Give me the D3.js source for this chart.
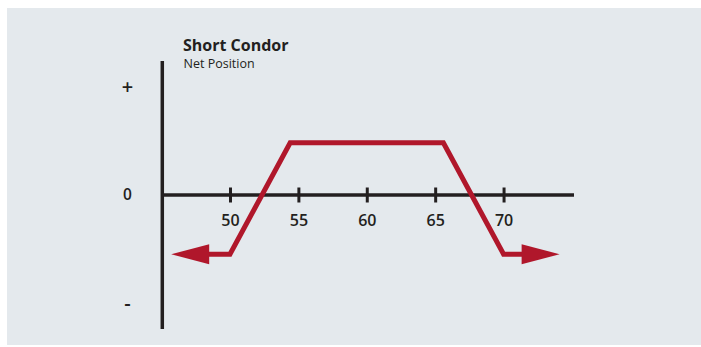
<!DOCTYPE html>
<html>
<head>
<meta charset="utf-8">
<script src="https://cdn.jsdelivr.net/npm/d3@7"></script>
<style>
  html, body { margin: 0; padding: 0; background: #ffffff; }
  svg { display: block; }
  text { font-family: "Open Sans", "Noto Sans", sans-serif; fill: #231f20; }
</style>
</head>
<body>
<svg id="chart" width="701" height="347"></svg>
<script>
// Strike prices shown on the horizontal axis
const strikes = [50, 55, 60, 65, 70];
// Net position of the short condor at its break points (arbitrary profit units)
const payoffPrice = [50, 54.4, 65.6, 70];
const payoffValue = [-3.4, 3, 3, -3.4];
// Where the open-ended arrows point to on each side
const arrowTipPrice = [45.7, 74.1];
// Vertical-axis markers
const yMarkLabels = ["+", "0", "-"];
const yMarkValues = [6.15, 0, -6.25];
const yMarkSizes = [20, 15.5, 20];

const svg = d3.select("#chart");
const W = 701, H = 347;

svg.append("rect")
  .attr("x", 7).attr("y", 8)
  .attr("width", W - 7).attr("height", H - 10)
  .attr("fill", "#e4e9ed");

const x = d3.scaleLinear().domain([45, 75.15]).range([161.6, 574]);
const y = d3.scaleLinear().domain([-7.7, 7.7]).range([329, 61]);

const ink = "#231f20";
const red = "#b0172b";

// Axes
const xAxis = d3.axisBottom(x)
  .tickValues(strikes)
  .tickSize(0)
  .tickPadding(0);

const gx = svg.append("g")
  .attr("transform", `translate(0,${y(0)})`)
  .call(xAxis);
gx.select(".domain").remove();
gx.selectAll(".tick text")
  .attr("dy", null)
  .attr("y", 31)
  .style("font-size", "16px")
  .style("font-weight", 600)
  .attr("fill", ink);
gx.selectAll(".tick").append("line")
  .attr("y1", -7.5).attr("y2", 7.5)
  .attr("stroke", ink).attr("stroke-width", 3);

svg.append("line")
  .attr("x1", x(45)).attr("x2", x(75.15))
  .attr("y1", y(0)).attr("y2", y(0))
  .attr("stroke", ink).attr("stroke-width", 3.5);

svg.append("line")
  .attr("x1", x(45) + 0.7).attr("x2", x(45) + 0.7)
  .attr("y1", y(7.7)).attr("y2", y(-7.7))
  .attr("stroke", ink).attr("stroke-width", 3.5);

svg.selectAll("text.ymark")
  .data(yMarkLabels)
  .join("text")
  .attr("class", "ymark")
  .attr("x", 127.5)
  .attr("y", (d, i) => y(yMarkValues[i]))
  .attr("dy", (d, i) => i === 1 ? "0.35em" : "0.3em")
  .attr("text-anchor", "middle")
  .style("font-size", (d, i) => yMarkSizes[i] + "px")
  .style("font-weight", 600)
  .text(d => d);

// Payoff line with arrowheads on both open ends
const headLen = 38, headHalf = 10;
const pts = payoffPrice.map((p, i) => [x(p), y(payoffValue[i])]);
const yLeft = y(payoffValue[0]);
const yRight = y(payoffValue[payoffValue.length - 1]);
const leftTip = x(arrowTipPrice[0]);
const rightTip = x(arrowTipPrice[1]);

const linePts = [[leftTip + headLen - 2, yLeft], ...pts, [rightTip - headLen + 2, yRight]];
svg.append("path")
  .attr("d", d3.line()(linePts))
  .attr("fill", "none")
  .attr("stroke", red)
  .attr("stroke-width", 5)
  .attr("stroke-linejoin", "miter");

svg.append("path")
  .attr("d", d3.line()([[leftTip, yLeft], [leftTip + headLen, yLeft - headHalf], [leftTip + headLen, yLeft + headHalf]]) + "Z")
  .attr("fill", red);
svg.append("path")
  .attr("d", d3.line()([[rightTip, yRight], [rightTip - headLen, yRight - headHalf], [rightTip - headLen, yRight + headHalf]]) + "Z")
  .attr("fill", red);

// Title block
svg.append("text")
  .attr("x", 183).attr("y", 51)
  .style("font-size", "16px")
  .style("font-weight", 700)
  .text("Short Condor");
svg.append("text")
  .attr("x", 183.5).attr("y", 68)
  .style("font-size", "12.5px")
  .style("font-weight", 400)
  .attr("fill", "#3a3637")
  .text("Net Position");
</script>
</body>
</html>
